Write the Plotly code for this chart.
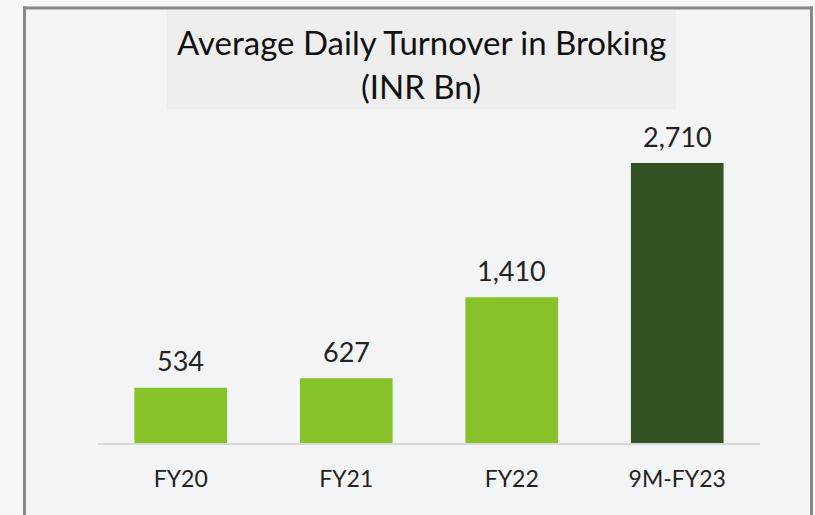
import plotly.graph_objects as go

categories = ["FY20", "FY21", "FY22", "9M-FY23"]
values = [534, 627, 1410, 2710]
value_labels = ["534", "627", "1,410", "2,710"]
bar_colors = ["#86C228", "#86C228", "#86C228", "#355225"]

W, H = 815, 515
l_px, r_px = 98, 760
y0_px, ytop_px = 443, 120
ymax = 2710 * (y0_px - ytop_px) / 280.0
FONT = "Lato, Open Sans, sans-serif"

fig = go.Figure(go.Bar(
    x=categories, y=values,
    marker=dict(color=bar_colors, line=dict(width=0)),
    hoverinfo="x+y",
))

annotations = [
    dict(text="Average Daily Turnover in Broking", xref="paper", yref="paper",
         x=421 / W, y=1 - 42 / H, xanchor="center", yanchor="middle", showarrow=False,
         font=dict(family=FONT, size=33, color="#111111")),
    dict(text="(INR Bn)", xref="paper", yref="paper",
         x=421 / W, y=1 - 86 / H, xanchor="center", yanchor="middle", showarrow=False,
         font=dict(family=FONT, size=33, color="#111111")),
]
for c, v, t in zip(categories, values, value_labels):
    annotations.append(dict(text=t, x=c, y=v, xref="x", yref="y", showarrow=False,
                            xanchor="center", yanchor="middle", yshift=27,
                            font=dict(family=FONT, size=27, color="#222222")))

def px_x(p):
    return p / W

def px_y(p):
    return 1 - p / H

border = dict(color="#888888", width=3)
fig.update_layout(
    width=W, height=H,
    margin=dict(l=0, r=0, t=0, b=0),
    paper_bgcolor="#f7f7f8",
    plot_bgcolor="rgba(0,0,0,0)",
    bargap=0.44,
    showlegend=False,
    xaxis=dict(domain=[l_px / W, r_px / W], range=[-0.5, 3.5], showgrid=False,
               showline=True, linecolor="#d9d9d9", linewidth=2, ticks="",
               tickfont=dict(family=FONT, size=23, color="#222222"),
               ticklabelstandoff=14, automargin=False, fixedrange=True),
    yaxis=dict(domain=[1 - y0_px / H, 1 - ytop_px / H], range=[0, ymax], visible=False,
               fixedrange=True),
    shapes=[
        dict(type="rect", xref="paper", yref="paper",
             x0=px_x(25), x1=px_x(810), y0=px_y(520), y1=px_y(8),
             line=dict(width=0), fillcolor="#f3f4f6", layer="below"),
        dict(type="rect", xref="paper", yref="paper",
             x0=px_x(167), x1=px_x(676), y0=px_y(109), y1=px_y(11),
             line=dict(width=0), fillcolor="#eeeeee", layer="below"),
        dict(type="line", xref="paper", yref="paper",
             x0=px_x(24.5), x1=px_x(24.5), y0=px_y(520), y1=px_y(6.5), line=border),
        dict(type="line", xref="paper", yref="paper",
             x0=px_x(23), x1=px_x(813), y0=px_y(8), y1=px_y(8), line=border),
        dict(type="line", xref="paper", yref="paper",
             x0=px_x(811.5), x1=px_x(811.5), y0=px_y(520), y1=px_y(6.5), line=border),
    ],
    annotations=annotations,
)

fig.write_html("out.html", config={"displayModeBar": False},
               post_script="document.body.style.margin='0';document.body.style.overflow='hidden';")
